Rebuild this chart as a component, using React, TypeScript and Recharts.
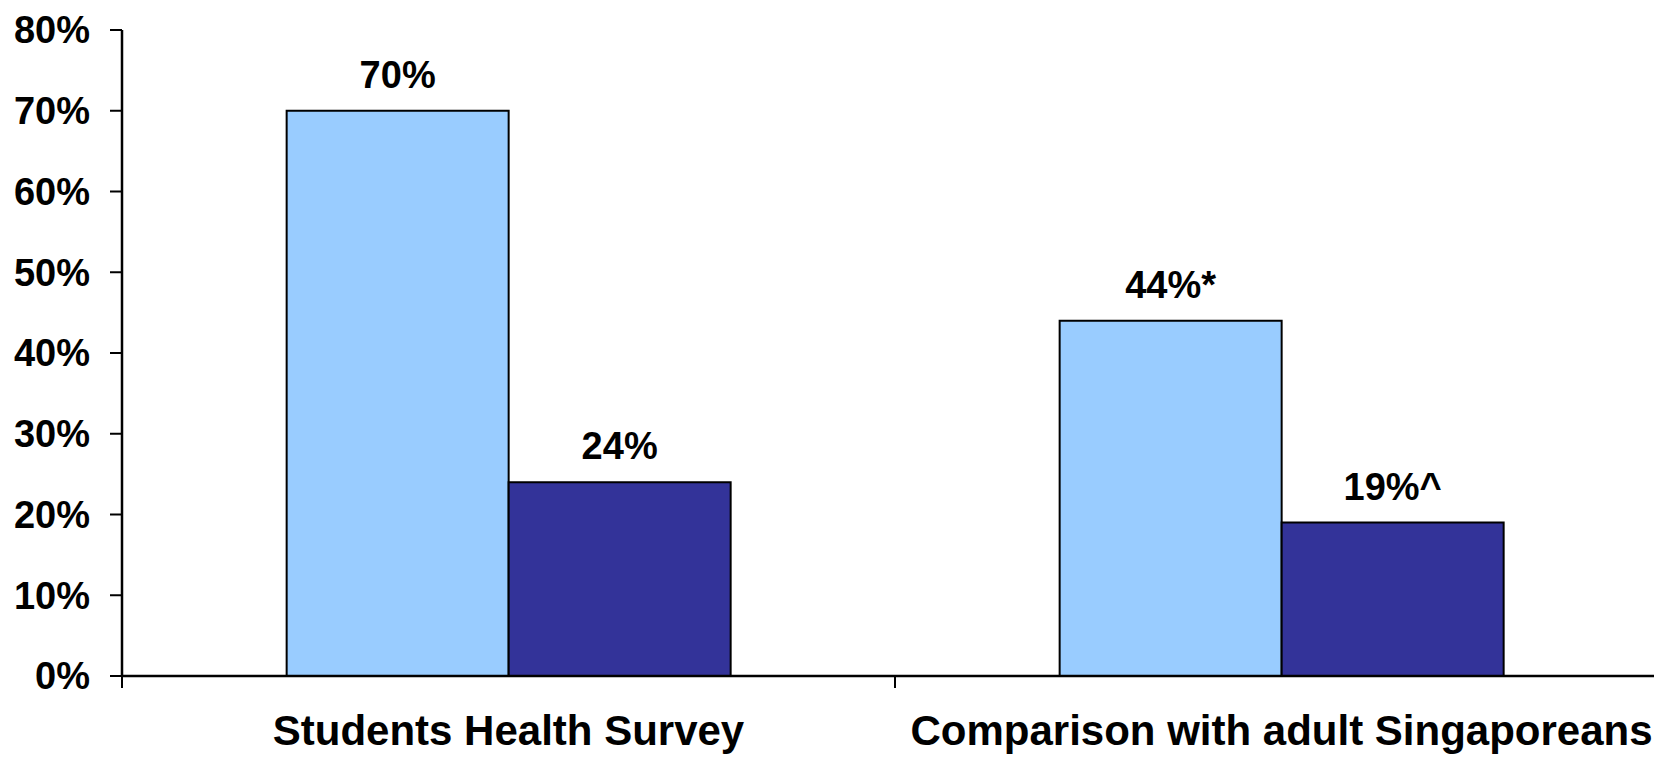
import React from "react"
import { BarChart, Bar, XAxis, YAxis, LabelList } from "recharts"

const categories = ["Students Health Survey", "Comparison with adult Singaporeans"]
const lightValues = [70, 44]
const darkValues = [24, 19]
const lightLabels = ["70%", "44%*"]
const darkLabels = ["24%", "19%^"]
const yTicks = [0, 10, 20, 30, 40, 50, 60, 70, 80]

const FONT = "'Liberation Sans', Arial, Helvetica, sans-serif"

const data = categories.map((category, i) => ({
  category,
  light: lightValues[i],
  dark: darkValues[i],
  lightLabel: lightLabels[i],
  darkLabel: darkLabels[i],
}))

function CategoryTick(props: any) {
  const { x, y, payload } = props
  const off = payload && typeof payload.offset === "number" ? payload.offset : 386.5
  return (
    <g>
      <line x1={x - off} x2={x - off} y1={y - 12} y2={y} stroke="#000" strokeWidth={2} />
      <text
        x={x}
        y={y + 57}
        textAnchor="middle"
        fill="#000"
        fontSize={42}
        fontWeight="bold"
        fontFamily={FONT}
      >
        {payload.value}
      </text>
    </g>
  )
}

const labelStyle = { fill: "#000", fontSize: 38, fontWeight: "bold", fontFamily: FONT }

export default function App() {
  return (
    <div
      style={{
        position: "absolute",
        left: 0,
        top: 0,
        width: 1654,
        height: 757,
        overflow: "hidden",
        background: "#fff",
      }}
    >
      <BarChart
        width={1680}
        height={757}
        data={data}
        margin={{ top: 30, right: 12, bottom: 0, left: 0 }}
        barCategoryGap="21.3%"
        barGap={0}
      >
        <XAxis
          dataKey="category"
          height={81}
          axisLine={{ stroke: "#000", strokeWidth: 2.5 }}
          tickLine={false}
          tickSize={12}
          tickMargin={0}
          tick={<CategoryTick />}
          interval={0}
        />
        <YAxis
          width={122}
          domain={[0, 80]}
          ticks={yTicks}
          interval={0}
          tickFormatter={(v: number) => `${v}%`}
          axisLine={{ stroke: "#000", strokeWidth: 2.5 }}
          tickLine={{ stroke: "#000", strokeWidth: 2 }}
          tickSize={12}
          tickMargin={20}
          tick={labelStyle}
        />
        <Bar dataKey="light" fill="#99CCFF" stroke="#000" strokeWidth={2} isAnimationActive={false}>
          <LabelList dataKey="lightLabel" position="top" offset={23} style={labelStyle} />
        </Bar>
        <Bar dataKey="dark" fill="#333399" stroke="#000" strokeWidth={2} isAnimationActive={false}>
          <LabelList dataKey="darkLabel" position="top" offset={23} style={labelStyle} />
        </Bar>
      </BarChart>
    </div>
  )
}
